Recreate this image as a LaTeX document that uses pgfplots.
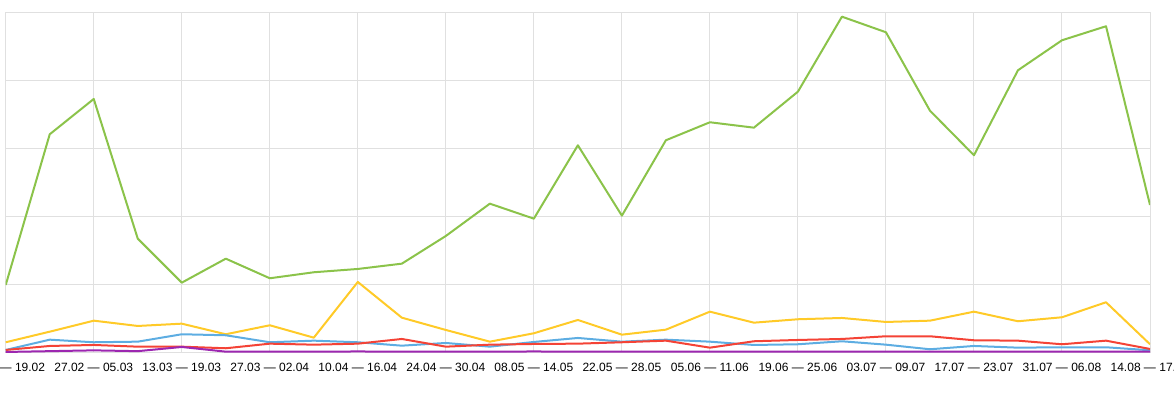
\documentclass[border=0pt]{standalone}
\usepackage{fontspec}
\setmainfont{Liberation Sans}
\usepackage{pgfplots}
\pgfplotsset{compat=1.18}
\definecolor{cgreen}{RGB}{139,195,74}
\definecolor{cyellow}{RGB}{255,202,40}
\definecolor{cblue}{RGB}{93,173,226}
\definecolor{cred}{RGB}{244,67,54}
\definecolor{cpurple}{RGB}{156,39,176}
\definecolor{gridgray}{RGB}{224,224,224}
\begin{document}
\begin{tikzpicture}
\useasboundingbox (-4.3pt,-32.5pt) rectangle (876.2pt,264.5pt);
\clip (-4.3pt,-32.5pt) rectangle (876.2pt,264.5pt);
\begin{axis}[
  at={(0,0)}, anchor=south west,
  scale only axis, width=858.2pt, height=255.3pt,
  xmin=0, xmax=26, ymin=0, ymax=340.4,
  xtick={0,2,...,26},
  xticklabels={13.02 — 19.02, 27.02 — 05.03, 13.03 — 19.03, 27.03 — 02.04, 10.04 — 16.04, 24.04 — 30.04, 08.05 — 14.05, 22.05 — 28.05, 05.06 — 11.06, 19.06 — 25.06, 03.07 — 09.07, 17.07 — 23.07, 31.07 — 06.08, 14.08 — 17.08},
  ytick={0,68.08,136.16,204.24,272.32,340.4},
  yticklabels={},
  grid=major,
  major grid style={color=gridgray, line width=0.75pt},
  axis line style={gridgray, line width=0.75pt},
  major tick length=0pt,
  tick label style={font=\fontsize{9}{11}\selectfont},
  xticklabel style={yshift=-4.5pt},
  every axis plot/.append style={line width=1.5pt, mark=none, line join=round},
]
\addplot[cgreen] coordinates {(0,67.7) (1,218.4) (2,253.7) (3,114) (4,70) (5,94) (6,74.4) (7,80.4) (8,83.7) (9,89) (10,116.7) (11,149) (12,134) (13,207.4) (14,137) (15,212.4) (16,230.4) (17,225) (18,261) (19,336) (20,320.4) (21,242) (22,197.4) (23,282.4) (24,312.4) (25,326.4) (26,147.7)};
\addplot[cyellow] coordinates {(0,10.4) (1,21) (2,32) (3,26.7) (4,29) (5,18.4) (6,27.4) (7,15) (8,70.7) (9,35) (10,22.7) (11,11) (12,19.4) (13,32.7) (14,18) (15,23) (16,41) (17,30) (18,33.4) (19,34.7) (20,30.7) (21,32) (22,41) (23,31.4) (24,35.4) (25,50.4) (26,8.4)};
\addplot[cblue] coordinates {(0,2.7) (1,13) (2,10.4) (3,11) (4,18.4) (5,17.4) (6,10.4) (7,12) (8,10.4) (9,7) (10,9.7) (11,6) (12,10.7) (13,14.7) (14,11) (15,13) (16,11) (17,7.7) (18,8.4) (19,11.4) (20,8) (21,3.4) (22,6.7) (23,5) (24,5.4) (25,5.4) (26,2.4)};
\addplot[cred] coordinates {(0,2.7) (1,6.7) (2,7.7) (3,6) (4,6) (5,4.4) (6,9) (7,8) (8,9) (9,13.7) (10,6) (11,8) (12,8.7) (13,9) (14,10.4) (15,12) (16,5) (17,11.4) (18,12.7) (19,13.7) (20,16.4) (21,16.4) (22,12.4) (23,12) (24,8.4) (25,12) (26,3.7)};
\addplot[cpurple] coordinates {(0,0.7) (1,1.5) (2,2.3) (3,1.5) (4,5.7) (5,1) (6,1) (7,1) (8,1.2) (9,1) (10,1) (11,1) (12,1.2) (13,1) (14,1) (15,1) (16,1) (17,1) (18,1) (19,1) (20,1) (21,1) (22,1) (23,1) (24,1) (25,1) (26,1)};
\end{axis}
\end{tikzpicture}
\end{document}
